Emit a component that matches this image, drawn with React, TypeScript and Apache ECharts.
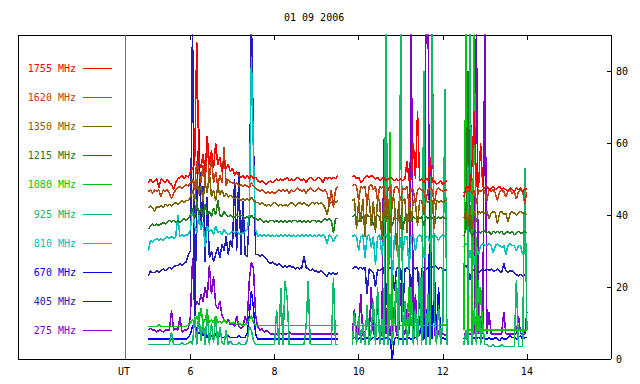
import { useEffect, useRef } from 'react';
import * as echarts from 'echarts';

const TITLE = '01 09 2006';
const SEG_START = [5.0, 9.85, 12.5];
const STEP = 0.05;
const X_TICKS = [6, 8, 10, 12, 14];
const Y_LABELS = [0, 20, 40, 60, 80];
const Y_TICKS = [20, 40, 60, 80];
const UT_AT = 4.45;
const X_MIN = 1.9;
const X_MAX = 16;
const Y_MAX = 90;

const NAMES = ['1755 MHz', '1620 MHz', '1350 MHz', '1215 MHz', '1080 MHz', '925 MHz', '810 MHz', '670 MHz', '405 MHz', '275 MHz'];
const COLORS = ['#ff0000', '#c04010', '#806000', '#207a20', '#00c800', '#10b868', '#00c0c0', '#0000ff', '#2020b8', '#8000c8'];

const mhz1755 = [
  [49, 50, 49, 49.5, 50, 47.5, 50, 49.5, 49, 50,
   49, 48.5, 47, 49, 50, 50.5, 51, 50, 51, 50.5,
   52, 53, 54, 88, 55, 53, 57, 52, 62, 54,
   58, 53, 60, 54, 56, 52, 55, 53, 54, 52,
   53, 51, 52, 51, 50.5, 51, 50, 51, 50, 51,
   50, 50.5, 49.5, 49, 49.5, 49, 48.5, 49, 49.5, 49,
   49.5, 50, 49.5, 50, 49.5, 50, 50.5, 49.5, 50, 49.5,
   50, 50.5, 50, 49.5, 50, 49, 50, 50.5, 50, 49.5,
   50, 50.5, 50, 49, 50.5, 50, 50.5, 50, 50.5, 50,
   51],
  [50.5, 51, 50, 50.5, 49, 49.5, 50.5, 51, 50.5, 51,
   50.5, 50, 50.5, 49.5, 50, 50.5, 49.5, 50, 50.5, 50,
   49.5, 50, 49.5, 50, 49.5, 50, 55, 49.5, 50, 60,
   50, 69, 49.5, 50, 49, 50, 49.5, 56, 49, 49.5,
   48.5, 49, 49.5, 48.5, 49, 49.5],
  [45, 47.5, 48, 47, 55, 69, 48, 47.5, 60, 48,
   47.5, 48, 47, 47.5, 48, 47, 47.5, 48, 47, 47.5,
   47, 46.5, 47.5, 47, 46.5, 47.5, 47, 47.5, 46.5, 47.5,
   47],
];

const mhz1620 = [
  [46.5, 47, 46, 47, 46.5, 47, 45, 47, 46.5, 47,
   46, 44.5, 46, 47, 47.5, 48, 47.5, 48, 48.5, 48,
   49, 50, 47, 55, 52, 49, 54, 48, 61, 50,
   56, 49, 52, 48, 51, 49, 59, 48, 50, 49,
   49, 48.5, 49, 48, 48.5, 48, 48.5, 48, 47.5, 49,
   48, 47.5, 47, 46.5, 47, 46.5, 46, 46.5, 46, 46.5,
   46, 46.5, 47, 46.5, 47, 46.5, 47, 46, 47, 46.5,
   47, 47.5, 47, 46.5, 47, 46, 47, 47.5, 47, 46.5,
   47, 47.5, 47, 46.5, 47, 46, 43, 47, 42, 47,
   48],
  [48, 48.5, 48, 44, 48, 47.5, 48, 43, 48, 48.5,
   47, 48, 44, 48, 47.5, 48, 42, 47.5, 48, 43,
   47.5, 48, 47, 44, 47.5, 47, 48, 42, 47.5, 47,
   43, 47, 47.5, 47, 46.5, 44, 47, 47.5, 47, 43,
   47, 47.5, 47, 46.5, 47, 47],
  [46, 47, 46.5, 47, 46, 47, 43, 47, 46.5, 47,
   46.5, 44, 47, 46.5, 47, 46, 44, 46.5, 47, 46.5,
   45, 46.5, 47, 46, 46.5, 44.5, 46.5, 47, 46.5, 43,
   46.5],
];

const mhz1350 = [
  [42, 42.5, 42, 41, 42.5, 42, 42.5, 42, 43, 42.5,
   43, 42.5, 43, 43.5, 43, 43.5, 44, 43.5, 44, 44,
   45, 47, 44, 50, 46, 48, 44, 49, 46, 52,
   45, 47, 44, 48, 45.5, 47, 45, 46, 45, 45.5,
   45, 44.5, 45, 44.5, 44, 44.5, 44, 44.5, 44, 45,
   44, 43.5, 43.5, 43, 43.5, 43, 42.5, 43, 42.5, 43,
   43.5, 43, 42.5, 43, 42.5, 43, 42.5, 43, 43.5, 43,
   42.5, 43, 43.5, 43, 43.5, 43, 42.5, 43, 43.5, 43,
   43.5, 43, 43.5, 43, 42, 40, 43, 43.5, 44, 43.5,
   44],
  [44, 44.5, 36, 44, 38, 44.5, 34, 44, 44.5, 37,
   44, 35, 44.5, 44, 33, 44, 38, 44.5, 35, 44,
   44.5, 30, 44, 36, 44, 44.5, 35, 44, 38, 44,
   43.5, 37, 44, 44, 40, 44, 43.5, 44, 44, 36,
   44, 43.5, 44, 43.5, 44, 44],
  [39, 41, 37, 42, 36, 41, 38, 41, 40.5, 41,
   40.5, 41, 39, 40.5, 41, 40.5, 37.5, 40.5, 41, 40,
   40.5, 38, 40.5, 41, 40.5, 40, 40.5, 41, 40.5, 40.5,
   40],
];

const mhz1215 = [
  [36, 37, 37.5, 37, 37.5, 37, 37.5, 38, 37.5, 38,
   38.5, 38, 38.5, 38, 38.5, 38, 38.5, 39, 38.5, 39,
   40, 42, 39, 44, 40, 42, 39.5, 43, 40, 41,
   39.5, 42, 40, 44, 40, 39.5, 41, 40, 39.5, 40,
   39.5, 39.5, 40, 39.5, 40, 39.5, 39, 39.5, 39, 40,
   39, 39, 38.5, 39, 38.5, 38, 38.5, 38, 38.5, 38.5,
   38, 38.5, 38, 38.5, 38, 38.5, 38, 38.5, 38, 38.5,
   38.5, 38, 38.5, 38, 38.5, 38, 38.5, 38, 38.5, 38.5,
   38, 38.5, 38, 38.5, 39, 38.5, 39, 38.5, 35, 39,
   39],
  [39.5, 40, 39.5, 38, 40, 39.5, 36, 40, 39.5, 40,
   37, 39.5, 40, 39.5, 35, 39.5, 40, 39, 39.5, 37,
   39.5, 39, 39.5, 40, 36, 39.5, 39, 39.5, 38, 39.5,
   39, 39.5, 39, 39.5, 37, 39.5, 39, 39.5, 39, 39.5,
   39, 39.5, 39, 39.5, 39, 39],
  [34, 36, 80, 35.5, 34, 36, 35, 35.5, 35, 35.5,
   35.5, 35, 35.5, 34.5, 35.5, 35, 35.5, 35, 35.5, 34.5,
   35, 35.5, 35, 35.5, 34.5, 35, 35.5, 35, 35, 35.5,
   35],
];

const mhz1080 = [
  [9, 9, 9, 9, 9, 9.5, 9, 9, 9, 9,
   9, 9, 9, 9, 9, 9, 9, 9, 9, 9.5,
   10, 11, 10, 12, 10.5, 14, 10, 11, 13, 10,
   11, 10, 12, 10, 10.5, 10, 11, 10, 10.5, 10,
   10, 10, 9.5, 10, 9.5, 9.5, 9.5, 10, 11, 12,
   10, 9.5, 9.3, 9.3, 9.3, 9.3, 9.3, 9.3, 9.3, 9.3,
   9.3, 9.3, 9.3, 9.3, 9.3, 9.3, 9.3, 9.3, 9.3, 9.3,
   9.3, 9.3, 9.3, 9.3, 9.3, 9.3, 9.3, 9.3, 9.3, 9.3,
   9.3, 9.3, 9.3, 9.3, 9.3, 9.3, 9.3, 9.3, 9.3, 9.3,
   9.3],
  [9.3, 9.3, 9.3, 9.3, 9.3, 9.3, 9.3, 9.3, 9.3, 9.3,
   9.3, 9.3, 9.3, 9.3, 9.3, 9.3, 9.3, 9.3, 63, 9.3,
   9.3, 9.3, 9.3, 9.3, 9.3, 9.3, 9.3, 20, 9.3, 9.3,
   9.3, 9.3, 9.3, 9.3, 9.3, 9.3, 9.3, 9.3, 9.3, 9.3,
   9.3, 9.3, 9.5, 9.5, 9.5, 9.5],
  [8, 92, 8, 8, 8, 92, 8, 8, 20, 8,
   8, 8, 8, 8, 8, 8, 8, 8, 8, 8,
   8, 8, 8, 8, 8, 8, 8, 8, 8, 8,
   8],
];

const mhz925 = [
  [4, 4, 4, 4, 4, 4, 4, 4, 4, 4,
   4, 7.5, 4, 4, 4, 4, 4.5, 4, 4, 4.5,
   5, 4, 12, 4, 13, 5, 11, 4, 14, 4,
   10, 4.5, 12, 4, 9, 4.5, 4, 8, 4, 5,
   4, 4, 4, 4.5, 4, 4, 4, 5, 9, 8,
   5, 4, 4, 4, 4, 4, 4, 4, 4, 4,
   4, 13.7, 4, 19.8, 4, 21.6, 17, 4, 4, 4,
   4, 4, 4, 4, 4, 9, 21.6, 4, 4, 4,
   4, 4, 4, 4, 4, 4, 4, 4, 22.6, 4,
   4],
  [4, 13, 4, 12, 4.5, 10, 4, 15, 4, 8,
   16, 4, 20, 4, 11, 4, 92, 4, 18, 4,
   12, 22, 4, 92, 4, 16, 4, 11, 20, 4,
   14, 4, 24, 4, 80, 4, 18, 4, 92, 12,
   4, 15, 4, 10, 75, 4],
  [4, 8, 4, 92, 4, 14, 4, 22, 4, 10,
   4, 4, 3.5, 3.5, 4, 3.5, 3.5, 3.5, 4, 3.5,
   3.5, 3.5, 3.5, 3.5, 3.5, 22, 3.5, 3.5, 3.5, 53,
   8],
];

const mhz810 = [
  [30, 33, 32.5, 33, 33.5, 33, 33.5, 33, 33.5, 34,
   33.5, 34, 33.5, 34, 40, 34, 34.5, 34, 34.5, 34.5,
   36, 42, 37, 35, 40, 36, 38, 31, 37, 35.5,
   36, 34.5, 37, 35, 35.5, 34.5, 36, 35, 34.5, 35,
   35.5, 35, 35.5, 35, 34.5, 35, 35.5, 36, 40, 84,
   56, 36, 34, 34.5, 34, 34.5, 34, 34.5, 34, 34.5,
   34, 34.5, 34, 34.5, 34, 34.5, 34, 34.5, 34, 34.5,
   34, 34.5, 34, 34.5, 34, 34.5, 34, 34.5, 34, 34.5,
   34, 34.5, 34, 34.5, 34, 32, 34.5, 34, 32.5, 34,
   34.5],
  [34, 34.5, 34, 30, 34, 34.5, 28, 34, 34.5, 31,
   34, 26, 34, 34.5, 29, 34, 34.5, 33, 34, 22,
   34, 34.5, 27, 34, 30, 34, 34, 25, 34, 34.5,
   30, 34, 34.5, 34, 28, 34, 34, 32, 34, 34.5,
   34, 33, 34, 34.5, 34, 34],
  [31, 32, 31.5, 28, 32, 26, 31.5, 29, 31.5, 32,
   31.5, 31.5, 32, 31.5, 29.5, 31.5, 32, 31.5, 31, 31.5,
   29, 31.5, 32, 31.5, 31.5, 30, 31.5, 31.5, 29, 31.5,
   31.5],
];

const mhz670 = [
  [5.5, 5.5, 5.5, 5.5, 5.5, 5.5, 5.5, 5.5, 5.5, 5.5,
   5.5, 5.5, 5.5, 5.5, 5.5, 5.5, 5.5, 5.5, 5.5, 6,
   7, 9, 10, 8, 7, 8.5, 6.5, 7.5, 6, 7,
   6.5, 6, 7, 6, 6.5, 6, 6, 6, 6.5, 6,
   6, 6, 6, 6.5, 6, 6, 6, 7, 12, 19,
   14, 7, 5.5, 5.5, 5.5, 5.5, 5.5, 5.5, 5.5, 5.5,
   5.5, 5.5, 5.5, 5.5, 5.5, 5.5, 5.5, 5.5, 5.5, 5.5,
   5.5, 5.5, 5.5, 5.5, 5.5, 5.5, 5.5, 5.5, 5.5, 5.5,
   5.5, 5.5, 5.5, 5.5, 5.5, 5.5, 5.5, 5.5, 5.5, 5.5,
   5.5],
  [5.5, 6, 5.5, 5.5, 6, 5.5, 5.5, 6, 5.5, 5.5,
   6, 5.5, 5.5, 6, 5.5, 5.5, 6, 5.5, 5.5, 0,
   5.5, 6, 5.5, 5.5, 6, 5.5, 5.5, 6, 5.5, 5.5,
   6, 5.5, 12, 6, 5.5, 14, 6, 46, 5.5, 25,
   6, 20, 5.5, 6, 5.5, 6],
  [5.5, 6, 5.5, 92, 5.5, 6, 5.5, 6, 5.5, 6,
   5.5, 5.5, 6, 5.5, 5.5, 6, 5.5, 5, 6, 5.5,
   5.5, 6, 6.5, 6, 6, 5.5, 6, 6.5, 5.5, 6,
   6],
];

const mhz405 = [
  [23, 24.5, 24, 24, 24.5, 24, 24.5, 25, 24.5, 25,
   25.5, 25, 25.5, 26, 26, 26.5, 26, 26.5, 27, 29,
   30, 95, 10, 42, 64, 36, 48, 27, 45, 28,
   30, 27, 29, 31, 28, 32, 30, 34, 29, 33,
   31, 50, 30, 52, 29, 44, 29, 28.5, 40, 95,
   60, 29, 29, 28.5, 29, 28.5, 28, 27, 26.5, 27,
   26.5, 26, 26.5, 26, 25.5, 26, 25.5, 26, 25.5, 25.5,
   25, 25.5, 25, 25.5, 28.5, 25.5, 25, 24.5, 25, 24.5,
   24.5, 24, 24.5, 24, 23.5, 23, 24, 23.5, 24, 23.5,
   24],
  [25, 25.5, 25.5, 25, 25.5, 25, 25.5, 18, 25, 24.5,
   24, 20, 25, 24.5, 25, 25.5, 15, 25, 25.5, 24.5,
   19, 25, 25.5, 25, 13, 25, 25.5, 25, 20, 25.5,
   25, 25.5, 14, 25, 25.5, 25, 25.5, 25, 25.5, 26,
   25.5, 25, 25.5, 25, 24.5, 25],
  [25.5, 26, 25, 22, 25, 24.5, 25, 24, 24.5, 25,
   24.5, 25, 24.5, 25, 24.5, 24.5, 25, 24.5, 24, 26.5,
   24.5, 24, 24.5, 24.5, 24, 23.5, 23, 23.5, 23, 23.5,
   23],
];

const mhz275 = [
  [8, 8.5, 8, 8, 7.5, 8, 8, 7.5, 8, 8,
   8, 13.5, 8, 8.5, 8, 11.5, 7.5, 8, 8, 8.5,
   12, 28, 14, 16, 15, 18, 16, 20, 17, 26,
   18, 23, 15, 14, 16, 12, 11, 10, 11, 9.5,
   10, 9, 12, 9, 8.5, 9, 12, 10, 22, 27,
   25, 12, 9, 8, 8.5, 7.5, 8, 7.5, 7, 7,
   7, 7, 7.5, 7, 7, 7, 7, 7.5, 7, 7,
   7, 7, 7, 7, 7, 7, 7, 7, 7, 7,
   7, 7, 7, 7, 7, 7, 7, 7, 7, 7,
   7],
  [7, 14, 6.5, 7, 18, 6.5, 7, 12, 6.5, 20,
   7, 6.5, 16, 7, 6.5, 61, 7, 19, 6.5, 7,
   15, 6.5, 7, 21, 6.5, 7, 14, 7, 95, 6.5,
   18, 7, 6.5, 12, 7, 95, 95, 7, 95, 6.5,
   10, 7, 6.5, 7, 6.5, 7],
  [7, 7, 7, 7, 7, 7, 95, 7, 12, 7,
   95, 7, 13, 7, 7, 7, 7, 7, 7, 13,
   7, 7, 7, 7, 7, 7, 12, 7, 7, 7,
   13],
];

const SERIES_DATA = [mhz1755, mhz1620, mhz1350, mhz1215, mhz1080, mhz925, mhz810, mhz670, mhz405, mhz275];

const FONT = '"DejaVu Sans Mono", "Liberation Mono", monospace';

function toPoints(segs: number[][]) {
  const out: (number | null)[][] = [];
  segs.forEach((seg, s) => {
    if (s > 0) out.push([SEG_START[s] - 0.1, null]);
    seg.forEach((v, i) => out.push([+(SEG_START[s] + i * STEP).toFixed(3), v]));
  });
  return out;
}

export default function App() {
  const ref = useRef<HTMLDivElement>(null);
  useEffect(() => {
    if (!ref.current) return;
    const chart = echarts.init(ref.current, undefined, { renderer: 'svg' });
    const gridLeft = 18;
    const gridTop = 35;
    const gridRight = 29;
    const gridBottom = 25;

    // draw low frequencies first so higher ones lie on top
    const order = NAMES.map((_, i) => i).reverse();
    const series = order.map((i) => ({
      name: NAMES[i],
      type: 'line',
      data: toPoints(SERIES_DATA[i]),
      xAxisIndex: 0,
      yAxisIndex: 0,
      symbol: 'none',
      showSymbol: false,
      connectNulls: false,
      silent: true,
      clip: true,
      lineStyle: { color: COLORS[i], width: 1.5 },
      itemStyle: { color: COLORS[i] },
      z: 2,
    }));

    const legendY0 = 67.5;
    const legendGap = 29.2;
    const legendEls: any[] = [];
    NAMES.forEach((n, i) => {
      const y = Math.round(legendY0 + i * legendGap) + 0.5;
      legendEls.push({
        type: 'text',
        x: 76,
        y,
        style: { text: n, fill: COLORS[i], font: `10px ${FONT}`, align: 'right', verticalAlign: 'middle' },
      });
      legendEls.push({
        type: 'line',
        shape: { x1: 83, y1: y, x2: 112, y2: y },
        style: { stroke: COLORS[i], lineWidth: 1 },
      });
    });

    chart.setOption({
      animation: false,
      backgroundColor: '#ffffff',
      title: {
        text: TITLE,
        left: 284,
        top: 12,
        padding: 0,
        textStyle: { fontFamily: FONT, fontSize: 10, fontWeight: 'normal', color: '#000' },
      },
      grid: { left: gridLeft, right: gridRight, top: gridTop, bottom: gridBottom, containLabel: false },
      xAxis: [
        {
          type: 'value',
          min: X_MIN,
          max: X_MAX,
          position: 'bottom',
          axisLine: { show: true, onZero: false, lineStyle: { color: '#000', width: 1 } },
          axisTick: { show: true, inside: true, length: 5, customValues: X_TICKS, lineStyle: { color: '#000' } },
          axisLabel: { show: true, customValues: X_TICKS, fontFamily: FONT, fontSize: 10, color: '#000', margin: 7 },
          splitLine: { show: false },
        },
        {
          type: 'value',
          min: X_MIN,
          max: X_MAX,
          position: 'top',
          axisLine: { show: true, onZero: false, lineStyle: { color: '#000', width: 1 } },
          axisTick: { show: true, inside: true, length: 5, customValues: X_TICKS, lineStyle: { color: '#000' } },
          axisLabel: { show: false },
          splitLine: { show: false },
        },
      ],
      yAxis: [
        {
          type: 'value',
          min: 0,
          max: Y_MAX,
          position: 'right',
          axisLine: { show: true, onZero: false, lineStyle: { color: '#000', width: 1 } },
          axisTick: { show: true, inside: true, length: 4, customValues: Y_TICKS, lineStyle: { color: '#000' } },
          axisLabel: { show: true, customValues: Y_LABELS, fontFamily: FONT, fontSize: 10, color: '#000', margin: 5 },
          splitLine: { show: false },
        },
        {
          type: 'value',
          min: 0,
          max: Y_MAX,
          position: 'left',
          axisLine: { show: true, onZero: false, lineStyle: { color: '#000', width: 1 } },
          axisTick: { show: false },
          axisLabel: { show: false },
          splitLine: { show: false },
        },
      ],
      series: [
        ...series,
        {
          type: 'line',
          data: [],
          silent: true,
          markLine: {
            silent: true,
            symbol: 'none',
            label: { show: false },
            lineStyle: { color: '#707070', width: 1, type: 'solid' },
            data: [{ xAxis: UT_AT }],
          },
        },
      ],
      graphic: [
        ...legendEls,
        {
          type: 'text',
          x: 124,
          y: 371,
          style: { text: 'UT', fill: '#000', font: `10px ${FONT}`, align: 'center', verticalAlign: 'middle' },
        },
      ],
    });
    return () => chart.dispose();
  }, []);
  return (
    <>
      <style>{'.rs-chart svg path { shape-rendering: crispEdges; }'}</style>
      <div className="rs-chart" ref={ref} style={{ position: 'absolute', left: 0, top: 0, width: 640, height: 384 }} />
    </>
  );
}
